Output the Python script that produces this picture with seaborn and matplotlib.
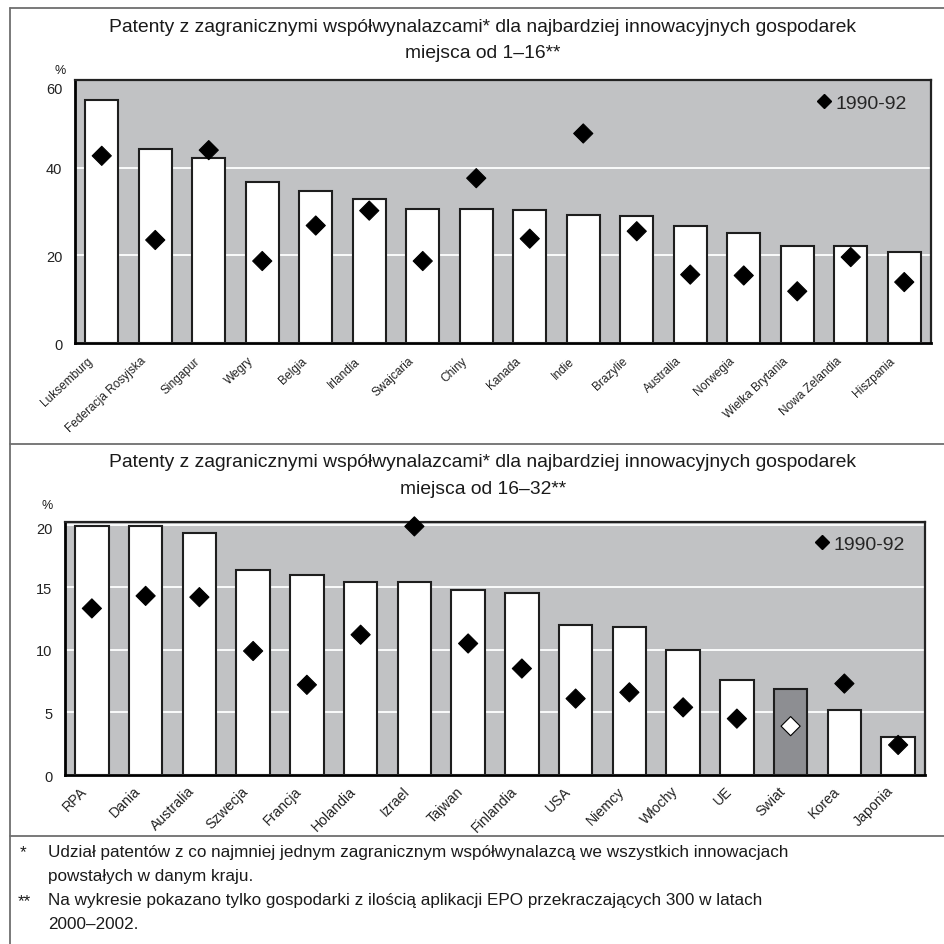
import matplotlib
matplotlib.use("Agg")
import matplotlib.pyplot as plt
from matplotlib.lines import Line2D
from matplotlib.transforms import ScaledTranslation
import seaborn as sns
import pandas as pd

# ---------------- data ----------------
countries1 = ["Luksemburg", "Federacja Rosyjska", "Singapur", "Wegry", "Belgia", "Irlandia",
              "Swajcaria", "Chiny", "Kanada", "Indie", "Brazylie", "Australia", "Norwegia",
              "Wielka Brytania", "Nowa Zelandia", "Hiszpania"]
share_2000_1 = [55.5, 44.3, 42.3, 36.7, 34.6, 32.8, 30.6, 30.6, 30.3, 29.3, 29.0, 26.8, 25.1,
                22.1, 22.1, 20.7]
share_1990_1 = [42.7, 23.5, 44.0, 18.7, 26.8, 30.2, 18.7, 37.6, 23.8, 47.8, 25.5, 15.6, 15.4,
                11.8, 19.6, 13.9]

countries2 = ["RPA", "Dania", "Australia", "Szwecja", "Francja", "Holandia", "Izrael", "Tajwan",
              "Finlandia", "USA", "Niemcy", "Włochy", "UE", "Swiat", "Korea", "Japonia"]
share_2000_2 = [19.85, 19.85, 19.3, 16.4, 16.0, 15.4, 15.4, 14.8, 14.5, 12.0, 11.8, 10.0, 7.6,
                6.9, 5.2, 3.0]
share_1990_2 = [13.3, 14.3, 14.2, 9.9, 7.2, 11.2, 19.85, 10.5, 8.5, 6.1, 6.6, 5.4, 4.5, 3.9,
                7.3, 2.4]

title_line1 = "Patenty z zagranicznymi współwynalazcami* dla najbardziej innowacyjnych gospodarek"
title1_line2 = "miejsca od 1–16**"
title2_line2 = "miejsca od 16–32**"
legend_label = "1990-92"
note1_lines = ["Udział patentów z co najmniej jednym zagranicznym współwynalazcą we wszystkich innowacjach",
               "powstałych w danym kraju."]
note2_lines = ["Na wykresie pokazano tylko gospodarki z ilością aplikacji EPO przekraczających 300 w latach",
               "2000–2002."]

# ---------------- style ----------------
sns.set_theme(style="white")
plt.rcParams["font.family"] = ["Liberation Sans", "DejaVu Sans"]

BG = "#c1c2c4"
EDGE = "#1e1e1e"
WORLD = "#8d8e92"
FRAME = "#6e6e6e"
TXT = "#1a1a1a"

fig = plt.figure(figsize=(9.45, 9.45), dpi=100)
W = H = 945.0


def px_axes(l, t, r, b):
    return fig.add_axes([l / W, 1 - b / H, (r - l) / W, (b - t) / H])


def ftext(x, y, s, **kw):
    kw.setdefault("color", TXT)
    fig.text(x / W, 1 - y / H, s, **kw)


def shift(artist, dx, dy):
    off = ScaledTranslation(dx / 100.0, dy / 100.0, fig.dpi_scale_trans)
    artist.set_transform(artist.get_transform() + off)


def draw_panel(ax, cats, vnow, vold, ymax, yticks, label_fs, rot, dx, dy, leg_xy,
               top_label_drop, special=None):
    df = pd.DataFrame({"kraj": cats, "now": vnow, "old": vold})
    pal = {c: (WORLD if c == special else "white") for c in cats}
    sns.barplot(data=df, x="kraj", y="now", hue="kraj", palette=pal, legend=False,
                width=0.62, edgecolor=EDGE, linewidth=1.5, saturation=1, ax=ax, zorder=3)
    fc = ["white" if c == special else "black" for c in cats]
    sns.scatterplot(data=df, x="kraj", y="old", marker="D", s=95, c=fc, edgecolor="black",
                    linewidth=0.8, ax=ax, zorder=5, clip_on=False)
    ax.set_facecolor(BG)
    ax.set_ylim(0, ymax)
    ax.set_xlim(-0.5, len(cats) - 0.5)
    ax.set_yticks(yticks)
    ax.set_yticklabels([str(v) for v in yticks])
    ax.yaxis.grid(True, color="white", linewidth=1.3, zorder=1)
    ax.set_axisbelow(True)
    ax.set_xlabel("")
    ax.set_ylabel("")
    for s in ["left", "bottom"]:
        ax.spines[s].set_linewidth(2.0)
        ax.spines[s].set_color("black")
    for s in ["top", "right"]:
        ax.spines[s].set_linewidth(1.6)
        ax.spines[s].set_color("#222222")
    ax.tick_params(axis="y", length=0, labelsize=10.5, pad=9, colors="#222222")
    ax.tick_params(axis="x", length=0, pad=6)
    shift(ax.get_yticklabels()[-1], 0, -top_label_drop)
    ax.set_xticks(range(len(cats)))
    ax.set_xticklabels(cats, rotation=rot, ha="right", rotation_mode="anchor",
                       fontsize=label_fs, color="#222222")
    for lab in ax.get_xticklabels():
        shift(lab, dx, dy)
    handle = Line2D([], [], marker="D", color="black", linestyle="none", markersize=7)
    ax.legend([handle], [legend_label], loc="center right", frameon=False,
              fontsize=14, handletextpad=0.15, borderaxespad=0, borderpad=0,
              handlelength=0.9, bbox_to_anchor=leg_xy)


# top panel
ax1 = px_axes(75, 81, 931, 344)
draw_panel(ax1, countries1, share_2000_1, share_1990_1, 60, [0, 20, 40, 60], 8.6, 43,
           -15, -3, ((907 - 75) / 856, (344 - 104) / 263), 8)
ftext(60, 71, "%", fontsize=9, ha="center", va="center")
ftext(483, 27, title_line1, fontsize=13.9, ha="center", va="center")
ftext(483, 53, title1_line2, fontsize=13.9, ha="center", va="center")

# bottom panel
ax2 = px_axes(65, 523, 925, 776)
draw_panel(ax2, countries2, share_2000_2, share_1990_2, 20.2, [0, 5, 10, 15, 20], 10.2, 45,
           -12, 0, ((905 - 65) / 860, (776 - 545) / 253), 3, special="Swiat")
ftext(47, 506, "%", fontsize=9, ha="center", va="center")
ftext(483, 463, title_line1, fontsize=13.9, ha="center", va="center")
ftext(483, 490, title2_line2, fontsize=13.9, ha="center", va="center")

# footnotes
FN = 12.3
ftext(20, 853, "*", fontsize=FN, ha="left", va="center")
ftext(48, 853, note1_lines[0], fontsize=FN, ha="left", va="center")
ftext(48, 877, note1_lines[1], fontsize=FN, ha="left", va="center")
ftext(18, 902, "**", fontsize=FN, ha="left", va="center")
ftext(48, 901, note2_lines[0], fontsize=FN, ha="left", va="center")
ftext(48, 925, note2_lines[1], fontsize=FN, ha="left", va="center")

# frame lines
for y in [9, 445, 837]:
    fig.add_artist(Line2D([10 / W, 1.0], [1 - y / H, 1 - y / H], color=FRAME, linewidth=1.3))
fig.add_artist(Line2D([10 / W, 10 / W], [1 - 9 / H, 0.0], color=FRAME, linewidth=1.3))

fig.savefig("out.png", dpi=100)
